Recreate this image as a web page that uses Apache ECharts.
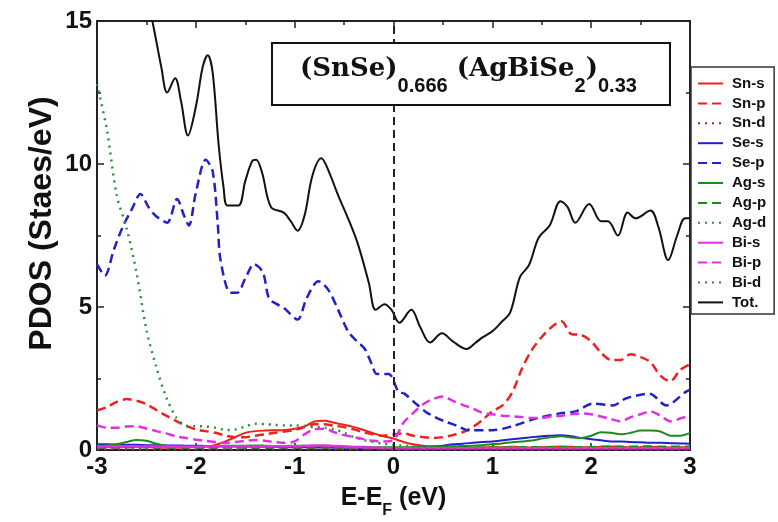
<!DOCTYPE html>
<html><head><meta charset="utf-8">
<script src="https://cdn.jsdelivr.net/npm/echarts/dist/echarts.min.js"></script>
<style>html,body{margin:0;padding:0;background:#fff}#c{width:778px;height:522px}</style>
</head><body><div id="c"></div>
<script>
// ---- data ----
const E = [
 -3.0,-2.9,-2.8,-2.7,-2.6,-2.5,-2.4,-2.3,-2.2,-2.1,
 -2.0,-1.9,-1.8,-1.7,-1.6,-1.5,-1.4,-1.3,-1.2,-1.1,
 -1.0,-0.9,-0.8,-0.7,-0.6,-0.5,-0.4,-0.3,-0.2,-0.1,
  0.0, 0.1, 0.2, 0.3, 0.4, 0.5, 0.6, 0.7, 0.8, 0.9,
  1.0, 1.1, 1.2, 1.3, 1.4, 1.5, 1.6, 1.7, 1.8, 1.9,
  2.0, 2.1, 2.2, 2.3, 2.4, 2.5, 2.6, 2.7, 2.8, 2.9,
  3.0];
const snS = [
 0.10,0.10,0.09,0.10,0.11,0.10,0.09,0.08,0.08,0.09,
 0.10,0.12,0.18,0.30,0.45,0.60,0.66,0.68,0.69,0.70,
 0.74,0.82,1.00,1.02,0.95,0.88,0.80,0.70,0.58,0.48,
 0.40,0.28,0.20,0.15,0.12,0.10,0.09,0.08,0.08,0.09,
 0.10,0.10,0.11,0.10,0.09,0.10,0.11,0.12,0.11,0.10,
 0.10,0.11,0.12,0.11,0.10,0.10,0.11,0.10,0.09,0.10,
 0.10];
const snP = [
 1.38,1.50,1.68,1.78,1.72,1.60,1.40,1.20,1.02,0.85,
 0.72,0.66,0.60,0.50,0.45,0.45,0.50,0.55,0.60,0.65,
 0.70,0.80,0.90,0.90,0.85,0.80,0.72,0.62,0.55,0.50,
 0.55,0.58,0.50,0.45,0.42,0.45,0.52,0.62,0.80,1.05,
 1.35,1.55,2.00,2.85,3.50,3.95,4.30,4.50,4.05,4.02,
 3.80,3.40,3.15,3.15,3.35,3.25,3.07,2.60,2.40,2.80,
 3.00];
const snD = [
 0.05,0.05,0.05,0.06,0.05,0.05,0.05,0.04,0.05,0.05,
 0.05,0.05,0.06,0.06,0.05,0.05,0.05,0.05,0.06,0.06,
 0.06,0.05,0.05,0.05,0.05,0.04,0.04,0.04,0.04,0.04,
 0.04,0.04,0.04,0.04,0.05,0.05,0.05,0.05,0.05,0.05,
 0.05,0.05,0.05,0.06,0.06,0.06,0.06,0.06,0.05,0.05,
 0.05,0.06,0.06,0.06,0.05,0.05,0.05,0.05,0.05,0.05,
 0.05];
const seS = [
 0.20,0.20,0.19,0.18,0.18,0.17,0.17,0.16,0.16,0.15,
 0.15,0.14,0.14,0.13,0.13,0.12,0.12,0.11,0.11,0.10,
 0.10,0.10,0.09,0.09,0.08,0.08,0.07,0.07,0.06,0.06,
 0.06,0.07,0.08,0.10,0.12,0.15,0.20,0.22,0.25,0.28,
 0.30,0.34,0.38,0.41,0.45,0.48,0.50,0.52,0.48,0.42,
 0.38,0.34,0.30,0.30,0.28,0.27,0.25,0.25,0.24,0.23,
 0.22];
const agS = [
 0.15,0.16,0.20,0.28,0.35,0.32,0.22,0.15,0.12,0.12,
 0.12,0.13,0.14,0.14,0.15,0.15,0.16,0.15,0.14,0.14,
 0.15,0.15,0.14,0.13,0.12,0.12,0.11,0.11,0.10,0.10,
 0.10,0.10,0.10,0.10,0.11,0.12,0.13,0.14,0.15,0.17,
 0.20,0.23,0.27,0.30,0.33,0.40,0.45,0.48,0.44,0.42,
 0.50,0.62,0.60,0.55,0.60,0.68,0.68,0.65,0.50,0.50,
 0.60];
const agP = [
 0.08,0.08,0.09,0.10,0.10,0.09,0.08,0.08,0.08,0.08,
 0.08,0.08,0.08,0.09,0.09,0.08,0.08,0.08,0.08,0.08,
 0.08,0.08,0.08,0.08,0.07,0.07,0.07,0.06,0.06,0.06,
 0.06,0.06,0.06,0.06,0.07,0.07,0.07,0.08,0.08,0.08,
 0.08,0.09,0.09,0.10,0.10,0.10,0.10,0.10,0.10,0.10,
 0.10,0.11,0.11,0.11,0.11,0.12,0.12,0.11,0.11,0.11,
 0.11];
const agD = [
 12.8,11.2,8.90,7.75,6.20,4.20,2.90,1.85,1.15,0.85,
 0.83,0.82,0.78,0.70,0.72,0.82,0.92,0.90,0.88,0.86,
 0.86,0.84,0.80,0.78,0.72,0.60,0.45,0.35,0.28,0.22,
 0.18,0.15,0.13,0.12,0.11,0.10,0.10,0.09,0.09,0.09,
 0.08,0.08,0.08,0.08,0.08,0.08,0.08,0.08,0.08,0.08,
 0.08,0.08,0.08,0.08,0.08,0.08,0.08,0.08,0.08,0.08,
 0.08];
const biS = [
 0.12,0.12,0.12,0.13,0.13,0.12,0.12,0.11,0.11,0.11,
 0.11,0.12,0.12,0.12,0.12,0.12,0.12,0.13,0.13,0.13,
 0.13,0.14,0.16,0.16,0.14,0.12,0.10,0.09,0.08,0.07,
 0.06,0.06,0.06,0.06,0.06,0.06,0.06,0.06,0.06,0.06,
 0.06,0.06,0.06,0.06,0.06,0.06,0.06,0.06,0.06,0.06,
 0.06,0.06,0.06,0.06,0.06,0.06,0.06,0.06,0.06,0.06,
 0.06];
const biP = [
 0.86,0.78,0.78,0.82,0.83,0.75,0.66,0.58,0.48,0.42,
 0.36,0.32,0.28,0.24,0.28,0.32,0.35,0.32,0.28,0.25,
 0.30,0.55,0.72,0.74,0.62,0.52,0.45,0.38,0.32,0.30,
 0.35,0.95,1.30,1.60,1.78,1.87,1.72,1.58,1.45,1.30,
 1.25,1.20,1.18,1.15,1.12,1.12,1.18,1.20,1.25,1.28,
 1.25,1.17,1.08,1.00,1.15,1.25,1.35,1.20,1.00,1.10,
 1.20];
const biD = [
 0.04,0.04,0.04,0.04,0.04,0.04,0.04,0.04,0.04,0.04,
 0.04,0.04,0.04,0.04,0.05,0.05,0.05,0.05,0.05,0.05,
 0.05,0.05,0.05,0.05,0.05,0.05,0.04,0.04,0.04,0.04,
 0.03,0.03,0.03,0.03,0.03,0.03,0.03,0.03,0.03,0.03,
 0.03,0.03,0.03,0.03,0.03,0.03,0.03,0.03,0.03,0.03,
 0.03,0.03,0.03,0.03,0.03,0.03,0.03,0.03,0.03,0.03,
 0.03];
// Se-p and Tot: read at their own feature points
const sepE = [-3.0,-2.92,-2.83,-2.74,-2.65,-2.56,-2.48,-2.41,-2.29,-2.19,-2.12,-2.07,-2.0,-1.9,-1.83,-1.78,-1.75,-1.65,-1.58,-1.5,
 -1.41,-1.32,-1.26,-1.18,-1.11,-0.97,-0.88,-0.76,-0.66,-0.56,-0.46,-0.37,-0.29,-0.22,-0.17,-0.05,0.05,0.11,0.2,0.32,
 0.42,0.52,0.64,0.76,1.0,1.2,1.44,1.68,1.84,2.02,2.22,2.35,2.59,2.76,2.96,3.0];
const sepV = [6.5,6.1,7.0,7.8,8.4,8.95,8.5,8.2,7.95,8.78,8.2,7.85,9.0,10.15,9.75,8.0,6.64,5.5,5.5,6.0,
 6.5,6.2,5.3,5.1,4.97,4.56,5.3,5.9,5.6,4.9,4.15,3.8,3.53,3.0,2.66,2.66,2.04,1.97,1.7,1.35,
 1.15,1.0,0.85,0.69,0.69,0.83,1.1,1.28,1.35,1.62,1.56,1.8,1.97,1.56,2.04,2.1];
const totE = [-2.6,-2.44,-2.35,-2.29,-2.21,-2.15,-2.08,-2.0,-1.93,-1.88,-1.83,-1.77,-1.72,-1.68,-1.57,-1.5,-1.43,-1.39,-1.33,-1.24,
 -1.11,-1.04,-0.97,-0.9,-0.82,-0.73,-0.65,-0.56,-0.46,-0.36,-0.25,-0.18,-0.09,-0.02,0.06,0.18,0.27,0.37,0.49,0.6,
 0.74,0.83,0.9,1.0,1.1,1.18,1.28,1.37,1.47,1.58,1.69,1.76,1.84,1.98,2.1,2.17,2.27,2.37,2.45,2.6,
 2.68,2.78,2.87,2.95,3.0];
const totV = [17.5,15.0,13.4,12.5,13.0,12.2,11.0,12.0,13.4,13.8,13.2,10.7,9.2,8.55,8.55,9.4,10.1,10.15,9.7,8.5,
 8.3,8.0,7.67,8.2,9.6,10.2,9.7,8.9,8.1,7.2,5.85,4.9,5.1,4.9,4.45,4.9,4.3,3.76,4.08,3.8,
 3.53,3.75,3.94,4.15,4.5,4.8,6.05,6.46,7.43,7.85,8.7,8.5,7.95,8.6,8.0,8.0,7.5,8.3,8.1,8.37,
 7.8,6.64,7.5,8.1,8.1];
const legendNames = ['Sn-s','Sn-p','Sn-d','Se-s','Se-p','Ag-s','Ag-p','Ag-d','Bi-s','Bi-p','Bi-d','Tot.'];
const xTicks = {min:-3, max:3, interval:1};
const yTicks = {min:0, max:15, interval:5};

// ---- styles ----
const RED='#ee2020', BLUE='#2020cc', GREEN='#1e8a1e', MAG='#e030e0';
const DASH=[9,5], DOT=[2,5];
function mk(name, xs, ys, color, type, width, smooth){
  return {name, type:'line', data: xs.map((x,i)=>[x, ys[i]]), showSymbol:false, symbol:'none',
    smooth: smooth, clip:true, lineStyle:{color, width, type, cap:'butt'}, itemStyle:{color},
    emphasis:{disabled:true}, silent:true, animation:false};
}
const series = [
  mk('Sn-s', E, snS, RED, 'solid', 2, 0.3),
  mk('Sn-p', E, snP, RED, DASH, 2.5, 0.3),
  mk('Sn-d', E, snD, '#9a2538', DOT, 2.5, 0.3),
  mk('Se-s', E, seS, BLUE, 'solid', 2, 0.3),
  mk('Se-p', sepE, sepV, BLUE, DASH, 2.5, 0.3),
  mk('Ag-s', E, agS, GREEN, 'solid', 2, 0.3),
  mk('Ag-p', E, agP, GREEN, DASH, 2.5, 0.3),
  mk('Ag-d', E, agD, '#2f8f3f', DOT, 2.5, 0.3),
  mk('Bi-s', E, biS, MAG, 'solid', 2.5, 0.3),
  mk('Bi-p', E, biP, MAG, DASH, 2.5, 0.3),
  mk('Bi-d', E, biD, '#a83a70', DOT, 2.5, 0.3),
  mk('Tot.', totE, totV, '#111', 'solid', 2, 0.35)
];
series[11].markLine = {silent:true, symbol:['none','none'], label:{show:false},
  lineStyle:{color:'#222', type:[8,5], width:2}, data:[{xAxis:0}], animation:false};

const labelFont = {fontFamily:'Liberation Sans', fontWeight:'bold', fontSize:24, color:'#111'};
const axisCommon = {
  axisLine:{show:true, onZero:false, lineStyle:{color:'#222', width:2}},
  axisTick:{show:true, inside:true, length:7, lineStyle:{color:'#222', width:1.5}},
  minorTick:{show:true, splitNumber:2, length:4, lineStyle:{color:'#222', width:1.5}},
  splitLine:{show:false}, minorSplitLine:{show:false}
};
function xAx(pos, labels){
  return Object.assign({type:'value', position:pos, min:xTicks.min, max:xTicks.max, interval:xTicks.interval,
    axisLabel:Object.assign({show:labels, margin:5}, labelFont)}, axisCommon);
}
function yAx(pos, labels){
  return Object.assign({type:'value', position:pos, min:yTicks.min, max:yTicks.max, interval:yTicks.interval,
    axisLabel:Object.assign({show:labels, margin:5}, labelFont)}, axisCommon);
}
const xa = xAx('bottom', true);
xa.name = '{a|E-E}{b|F}{a| (eV)}';
xa.nameLocation = 'middle';
xa.nameGap = 36;
xa.nameMoveOverlap = false;
xa.nameTextStyle = {rich:{
  a:{fontFamily:'Liberation Sans', fontWeight:'bold', fontSize:25, color:'#111', lineHeight:30, verticalAlign:'top'},
  b:{fontFamily:'Liberation Sans', fontWeight:'bold', fontSize:16, color:'#111', lineHeight:16, padding:[17,0,0,0], verticalAlign:'top'}
}};
const xt = xAx('top', false);
const ya = yAx('left', true);
ya.name = 'PDOS (Staes/eV)';
ya.nameLocation = 'middle';
ya.nameGap = 39;
ya.nameMoveOverlap = false;
ya.nameTextStyle = {fontFamily:'Liberation Sans', fontWeight:'bold', fontSize:32, color:'#111', padding:[0,0,0,24]};
const yr = yAx('right', false);

const option = {
  backgroundColor:'#fff',
  animation:false,
  grid:{left:97, right:88, top:21, bottom:72, outerBoundsMode:'none', containLabel:false},
  title:{
    text:'{m|(SnSe)}{s|0.666}{m| (AgBiSe}{s|2}{m|)}{s|0.33}',
    left:272, top:43, padding:[13,33,9,28],
    borderColor:'#111', borderWidth:2, backgroundColor:'#fff',
    textStyle:{rich:{
      m:{fontFamily:'DejaVu Serif', fontWeight:'bold', fontSize:26, color:'#111', lineHeight:34, verticalAlign:'top'},
      s:{fontFamily:'Liberation Sans', fontWeight:'bold', fontSize:20, color:'#111', lineHeight:18, padding:[20,0,0,0], verticalAlign:'top'}
    }}
  },
  legend:{
    data:legendNames, orient:'vertical', left:691, top:67,
    itemWidth:25, itemHeight:12, itemGap:4.9,
    padding:[9,8,4,6], borderColor:'#333', borderWidth:1.5, backgroundColor:'#fff',
    itemStyle:{opacity:0},
    textStyle:{fontFamily:'Liberation Sans', fontWeight:'bold', fontSize:15, color:'#111', padding:[0,0,0,4]},
    selectedMode:false, z:10
  },
  xAxis:[xa, xt],
  yAxis:[ya, yr],
  series
};
const chart = echarts.init(document.getElementById('c'), null, {renderer:'canvas'});
chart.setOption(option);
</script></body></html>
